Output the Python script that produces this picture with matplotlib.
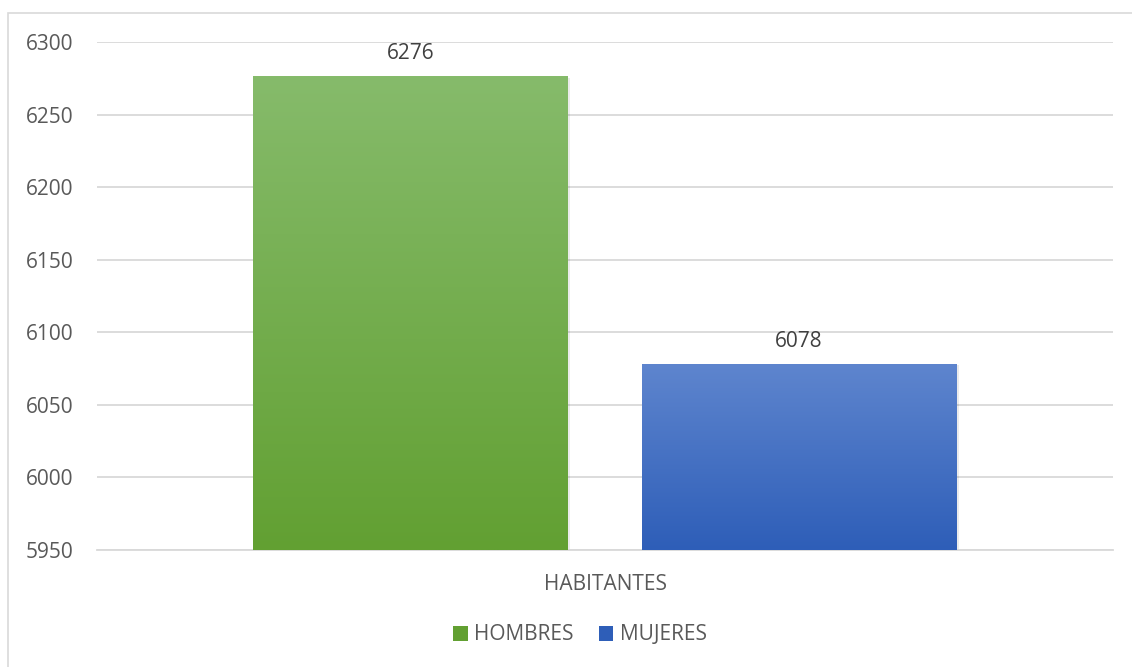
import matplotlib.pyplot as plt
import numpy as np
from matplotlib.patches import Rectangle
from matplotlib.colors import LinearSegmentedColormap

# ---------------- DATA ----------------
category = "HABITANTES"
series_names = ["HOMBRES", "MUJERES"]
values = [6276, 6078]
y_ticks = [5950, 6000, 6050, 6100, 6150, 6200, 6250, 6300]

# top / bottom colours of the gradient fill
grad_colors = [("#86BB6B", "#62A032"), ("#5E85CE", "#2E5EB8")]

W, H = 1132, 667
plt.rcParams['font.family'] = ['Open Sans', 'DejaVu Sans']

fig = plt.figure(figsize=(W / 100, H / 100), dpi=100)
# outer chart border (light gray)
fig.patches.append(Rectangle((8 / W, -0.01), 1.2, 1 - 13 / H + 0.01, transform=fig.transFigure,
                             fill=False, edgecolor="#D9D9D9", linewidth=1.2))

ax = fig.add_axes([97 / W, 1 - 550 / H, (1113 - 97) / W, (550 - 42) / H])

bar_w = 0.31
gap = 0.072
centers = [0.5 - (bar_w + gap) / 2, 0.5 + (bar_w + gap) / 2]

for i, (c, v) in enumerate(zip(centers, values)):
    top, bot = grad_colors[i]
    cmap = LinearSegmentedColormap.from_list("g%d" % i, [bot, top])
    grad = np.linspace(0, 1, 256).reshape(-1, 1)
    x0 = c - bar_w / 2
    # soft shadow
    ax.add_patch(Rectangle((x0 + 0.002, y_ticks[0]), bar_w, v - y_ticks[0] - 0.5,
                           facecolor="#000000", alpha=0.08, edgecolor="none", zorder=2))
    ax.imshow(grad, cmap=cmap, origin="lower", aspect="auto",
              extent=(x0, x0 + bar_w, y_ticks[0], v), zorder=3)
    ax.annotate(str(v), (c, v), xytext=(0, 9), textcoords="offset points",
                ha="center", va="bottom", fontsize=15, color="#404040", zorder=4)

ax.set_xlim(0, 1)
ax.set_ylim(y_ticks[0], y_ticks[-1])
ax.set_yticks(y_ticks)
ax.set_xticks([])
ax.tick_params(axis="y", length=0, pad=17, labelsize=15, labelcolor="#595959")
ax.grid(axis="y", color="#D9D9D9", linewidth=1.3, zorder=0)
ax.set_axisbelow(True)
for s in ax.spines.values():
    s.set_visible(False)
ax.spines["bottom"].set_visible(True)
ax.spines["bottom"].set_color("#D9D9D9")
ax.spines["bottom"].set_linewidth(1.3)

ax.set_xlabel(category, fontsize=15, color="#595959", labelpad=17)

handles = [Rectangle((0, 0), 1, 1, facecolor=grad_colors[i][1]) for i in range(2)]
fig.legend(handles, series_names, loc="center", bbox_to_anchor=(580 / W, 1 - 635 / H),
           ncol=2, frameon=False, fontsize=15, labelcolor="#595959",
           handlelength=0.7, handleheight=0.7, handletextpad=0.3, columnspacing=1.2)

fig.savefig("out.png", dpi=100)
